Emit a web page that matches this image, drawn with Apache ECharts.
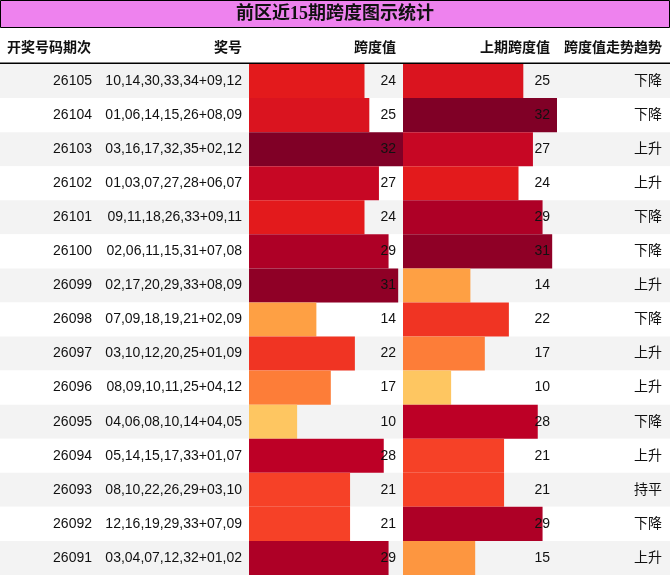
<!DOCTYPE html>
<html><head><meta charset="utf-8">
<script src="https://cdn.jsdelivr.net/npm/echarts@6/dist/echarts.min.js"></script>
<style>html,body{margin:0;padding:0;background:#fff}#c{width:670px;height:575px}</style>
</head><body><div id="c"></div>
<script>
const periods = ['26105','26104','26103','26102','26101','26100','26099','26098','26097','26096','26095','26094','26093','26092','26091'];
const awards = ['10,14,30,33,34+09,12','01,06,14,15,26+08,09','03,16,17,32,35+02,12','01,03,07,27,28+06,07','09,11,18,26,33+09,11','02,06,11,15,31+07,08','02,17,20,29,33+08,09','07,09,18,19,21+02,09','03,10,12,20,25+01,09','08,09,10,11,25+04,12','04,06,08,10,14+04,05','05,14,15,17,33+01,07','08,10,22,26,29+03,10','12,16,19,29,33+07,09','03,04,07,12,32+01,02'];
const spans = [24,25,32,27,24,29,31,14,22,17,10,28,21,21,29];
const prevSpans = [25,32,27,24,29,31,14,22,17,10,28,21,21,29,15];
const trends = ['下降','下降','上升','上升','下降','下降','上升','下降','上升','上升','下降','上升','持平','下降','上升'];
const headers = ['开奖号码期次','奖号','跨度值','上期跨度值','跨度值走势趋势'];
const titleText = '前区近15期跨度图示统计';
const spanMax = 32;

const stops = ['#ffffcc','#ffeda0','#fed976','#feb24c','#fd8d3c','#fc4e2a','#e31a1c','#bd0026','#800026'];
function hex(c){return [parseInt(c.substr(1,2),16),parseInt(c.substr(3,2),16),parseInt(c.substr(5,2),16)];}
function colorFor(v){
  let t = Math.max(0, Math.min(1, v / spanMax)) * (stops.length - 1);
  let i = Math.min(stops.length - 2, Math.floor(t)); let f = t - i;
  let a = hex(stops[i]), b = hex(stops[i+1]);
  return 'rgb(' + a.map((x,k)=>Math.round(x + (b[k]-x)*f)).join(',') + ')';
}

const FONT = '"Liberation Sans", Arial, "Noto Sans CJK SC", sans-serif';
const chart = echarts.init(document.getElementById('c'), null, {renderer:'canvas'});
const rowTop = 64, rowH = 511;
const hdrY = 47;

function valueLabel(){
  return {show:true, position:[147,'50%'], align:'right', verticalAlign:'middle',
    color:'#111', fontSize:14, fontFamily:FONT, formatter: p => p.value};
}

chart.setOption({
  animation:false,
  grid:[
    {left:0, right:0, top:rowTop, height:rowH},
    {left:249, width:154, top:rowTop, height:rowH},
    {left:403, width:154, top:rowTop, height:rowH}
  ],
  xAxis:[
    {gridIndex:0, type:'value', min:0, max:1, show:false},
    {gridIndex:1, type:'value', min:0, max:spanMax, show:false},
    {gridIndex:2, type:'value', min:0, max:spanMax, show:false}
  ],
  yAxis:[
    {gridIndex:0, type:'category', data:periods, inverse:true, axisLine:{show:false}, axisTick:{show:false}, axisLabel:{show:false},
     splitArea:{show:true, areaStyle:{color:['#f3f3f3','#ffffff']}}},
    {gridIndex:1, type:'category', data:periods, inverse:true, position:'left', z:10,
     axisLine:{show:false}, axisTick:{show:false}, splitLine:{show:false},
     axisLabel:{margin:7, fontSize:14, fontFamily:FONT, color:'#111',
       formatter:(v,i)=> '{p|' + v + '}{a|' + awards[i] + '}',
       rich:{p:{width:80, align:'right', fontSize:14, fontFamily:FONT, color:'#111'},
             a:{width:150, align:'right', fontSize:14, fontFamily:FONT, color:'#111'}}}},
    {gridIndex:2, type:'category', data:periods, inverse:true, position:'right', z:10,
     axisLine:{show:false}, axisTick:{show:false}, splitLine:{show:false},
     axisLabel:{margin:105, align:'right', fontSize:14, fontFamily:FONT, color:'#111',
       formatter:(v,i)=> trends[i]}}
  ],
  series:[
    {type:'bar', xAxisIndex:1, yAxisIndex:1, data:spans, barCategoryGap:0, barWidth:'100%',
     itemStyle:{color:p=>colorFor(p.value)}, label:valueLabel(), z:3},
    {type:'bar', xAxisIndex:2, yAxisIndex:2, data:prevSpans, barCategoryGap:0, barWidth:'100%',
     itemStyle:{color:p=>colorFor(p.value)}, label:valueLabel(), z:3}
  ],
  graphic:[
    {type:'rect', shape:{x:0.5, y:0.5, width:669, height:27}, style:{fill:'#ee82ee', stroke:'#000', lineWidth:1}, z:20},
    {type:'text', x:335, y:14.5, style:{text:titleText, font:'bold 18px "Liberation Serif", "Noto Sans CJK SC", serif', fill:'#111', textAlign:'center', textVerticalAlign:'middle'}, z:21},
    {type:'rect', shape:{x:0, y:62.5, width:670, height:1.5}, style:{fill:'#000'}, z:20},
    {type:'text', x:7, y:hdrY, style:{text:headers[0], font:'bold 14px "Noto Sans CJK SC", sans-serif', fill:'#111', textAlign:'left', textVerticalAlign:'middle'}, z:21},
    {type:'text', x:242, y:hdrY, style:{text:headers[1], font:'bold 14px "Noto Sans CJK SC", sans-serif', fill:'#111', textAlign:'right', textVerticalAlign:'middle'}, z:21},
    {type:'text', x:396, y:hdrY, style:{text:headers[2], font:'bold 14px "Noto Sans CJK SC", sans-serif', fill:'#111', textAlign:'right', textVerticalAlign:'middle'}, z:21},
    {type:'text', x:550, y:hdrY, style:{text:headers[3], font:'bold 14px "Noto Sans CJK SC", sans-serif', fill:'#111', textAlign:'right', textVerticalAlign:'middle'}, z:21},
    {type:'text', x:662, y:hdrY, style:{text:headers[4], font:'bold 14px "Noto Sans CJK SC", sans-serif', fill:'#111', textAlign:'right', textVerticalAlign:'middle'}, z:21}
  ]
});
</script></body></html>
